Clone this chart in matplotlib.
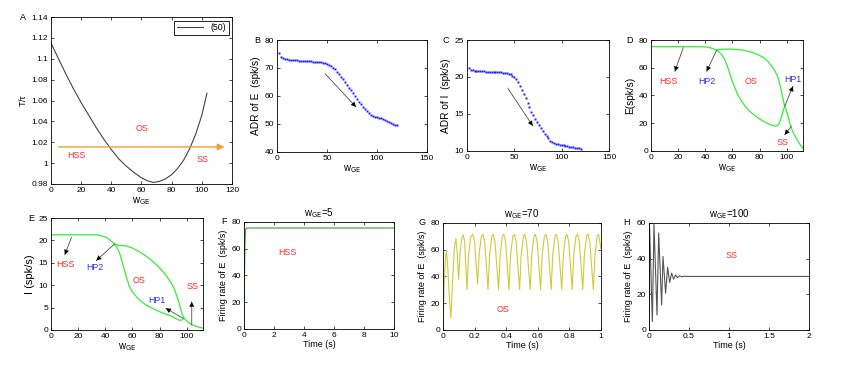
import matplotlib
matplotlib.use("Agg")
import matplotlib.pyplot as plt

plt.rcParams['font.family'] = ['Liberation Sans', 'DejaVu Sans']
plt.rcParams['mathtext.default'] = 'regular'
plt.rcParams['font.size'] = 6
plt.rcParams['axes.linewidth'] = 0.6

# ---------------- data ----------------
# A: T/tau vs w_GE
a_w = [0, 5, 10, 15, 20, 25, 30, 35, 40, 45, 50, 55, 60, 64, 68, 72, 76, 80, 84, 88, 92, 96, 100, 103.4]
a_T = [1.115, 1.100, 1.085, 1.071, 1.058, 1.046, 1.034, 1.023, 1.013, 1.004, 0.997, 0.991, 0.986, 0.983, 0.9815,
       0.9825, 0.985, 0.989, 0.995, 1.003, 1.014, 1.028, 1.046, 1.067]
a_yticks = [0.98, 1.0, 1.02, 1.04, 1.06, 1.08, 1.1, 1.12, 1.14]
a_yticklabels = ['0.98', '1', '1.02', '1.04', '1.06', '1.08', '1.1', '1.12', '1.14']

# B: ADR of E
b_w = list(range(2, 121, 2))
b_E = [75.2, 73.9, 73.4, 73.2, 73.05, 72.95, 72.9, 72.85, 72.8, 72.7, 72.65, 72.6, 72.55, 72.5, 72.45, 72.4,
       72.35, 72.3, 72.25, 72.2, 72.15, 72.05, 71.95, 71.85, 71.6, 71.2, 70.7, 70.1, 69.5, 68.6, 67.7, 66.9,
       66.0, 65.0, 64.0, 63.0, 62.0, 61.0, 60.0, 59.0, 58.0, 57.0, 56.0, 55.2, 54.5, 53.8, 53.3, 52.9, 52.6,
       52.4, 52.2, 52.0, 51.7, 51.4, 51.0, 50.7, 50.4, 50.1, 49.8, 49.5]

# C: ADR of I
c_w = list(range(2, 121, 2))
c_I = [21.2, 21.0, 20.9, 20.85, 20.82, 20.8, 20.78, 20.76, 20.75, 20.74, 20.73, 20.72, 20.71, 20.7, 20.68,
       20.66, 20.64, 20.62, 20.6, 20.56, 20.5, 20.45, 20.35, 20.2, 20.0, 19.7, 19.3, 18.8, 18.3, 17.7, 17.1,
       16.5, 15.9, 15.3, 14.8, 14.3, 13.9, 13.5, 13.1, 12.7, 12.3, 12.0, 11.7, 11.4, 11.2, 11.05, 10.95, 10.9,
       10.85, 10.8, 10.75, 10.7, 10.65, 10.6, 10.55, 10.5, 10.45, 10.4, 10.35, 10.3]

# D: bifurcation of E
d_up_w = [0, 10, 20, 30, 38, 42, 45, 48.3, 52, 57, 63, 69, 74, 79, 83, 86, 89, 91, 93, 94.4, 95.5, 96.6, 97.6, 98.5]
d_up_E = [75.2, 75.2, 75.2, 75.2, 75.1, 74.8, 74.0, 72.8, 73.3, 73.5, 73.2, 72.5, 71.2, 69.4, 67.3, 64.6, 61.0,
          58.3, 54.5, 50.2, 46.0, 40.6, 36.0, 32.2]
d_lo_w = [48.3, 50, 52, 54, 56, 58, 60, 62, 64, 67, 70, 74, 78, 82, 86, 89, 91, 92.5, 94, 95.5, 96.5, 97.5, 98.5]
d_lo_E = [72.8, 71.5, 69.5, 66.5, 62, 56, 50, 45, 40.5, 35.5, 31.5, 27.5, 24.5, 21.8, 19.8, 18.6, 18.0, 18.0,
          19.0, 22.5, 26.0, 29.5, 32.2]
d_ss_w = [98.5, 100, 101.5, 103, 104.5, 106, 107.5, 109, 110.5, 112]
d_ss_E = [32.2, 28.5, 23.0, 17.8, 13.8, 11.0, 8.3, 5.8, 3.7, 2.0]

# E: bifurcation of I
e_up_w = [0, 10, 20, 30, 35, 40, 43, 46.8, 50, 55, 60, 65, 70, 75, 80, 85, 88, 90.7, 92.5, 94.4, 95.6, 96.8, 98]
e_up_I = [21.25, 21.25, 21.25, 21.25, 21.2, 20.8, 20.2, 19.2, 18.9, 18.8, 18.3, 17.5, 16.5, 15.3, 13.9, 12.1,
          10.8, 9.3, 7.8, 6.0, 4.6, 3.4, 2.6]
e_lo_w = [46.8, 48.5, 50.5, 52.3, 54.1, 56, 57.8, 60, 62.7, 66, 70, 75, 79.8, 85, 89.5, 92, 94.4, 96.3, 98]
e_lo_I = [19.2, 18.5, 17.2, 15.4, 13.4, 11.4, 9.7, 8.5, 7.5, 6.5, 5.6, 4.8, 4.1, 3.5, 3.0, 2.5, 2.2, 2.2, 2.6]
e_ss_w = [98, 100, 102, 104, 106, 108, 110, 112]
e_ss_I = [2.6, 2.0, 1.5, 1.15, 0.9, 0.7, 0.55, 0.4]

# F: w_GE = 5
f_t = [0, 0.03, 0.06, 0.09, 0.12, 0.2, 10]
f_E = [0, 35, 62, 72, 75, 75.5, 75.5]

# G: w_GE = 70 (oscillation, peaks/troughs and shoulders)
g_t = [0, 0.008, 0.016, 0.021, 0.028, 0.04, 0.05, 0.06, 0.072, 0.082, 0.09, 0.099, 0.108, 0.12, 0.128,
       0.137, 0.152, 0.162, 0.176, 0.188, 0.2, 0.219, 0.229, 0.243, 0.253, 0.264, 0.285, 0.295, 0.309, 0.318,
       0.329, 0.352, 0.362, 0.376, 0.385, 0.396, 0.418, 0.428, 0.442, 0.452, 0.463, 0.485, 0.495, 0.509, 0.518,
       0.529, 0.552, 0.562, 0.576, 0.585, 0.596, 0.618, 0.628, 0.642, 0.652, 0.663, 0.685, 0.695, 0.709, 0.718,
       0.729, 0.752, 0.762, 0.776, 0.785, 0.796, 0.818, 0.828, 0.842, 0.852, 0.863, 0.885, 0.895, 0.909, 0.918,
       0.929, 0.952, 0.962, 0.976, 0.985, 1.0]
g_E = [0, 35, 55, 59.6, 52, 25, 8.7, 35, 62, 68.3, 58, 37.8, 58, 69, 71.3, 66, 30.3, 56, 69.5, 71.5, 66, 34.3,
       57, 70, 71.5, 66, 30.3, 56, 70, 71.5, 66, 30.3, 56, 70, 71.5, 66, 30.3, 56, 70, 71.5, 66, 30.3, 56, 70,
       71.5, 66, 30.3, 56, 70, 71.5, 66, 30.3, 56, 70, 71.5, 66, 30.3, 56, 70, 71.5, 66, 30.3, 56, 70, 71.5, 66,
       30.3, 56, 70, 71.5, 66, 30.3, 56, 70, 71.5, 66, 30.3, 56, 70, 71.5, 61]

# H: w_GE = 100 (damped oscillation)
h_t = [0, 0.008, 0.042, 0.0625, 0.1, 0.121, 0.158, 0.175, 0.208, 0.233, 0.258, 0.283, 0.308, 0.333, 0.358,
       0.383, 0.41, 0.44, 0.5, 2.0]
h_E = [0, 57, 4.7, 59.4, 8.4, 54.4, 14, 41.2, 20.6, 35.2, 26.6, 31.9, 28.5, 30.8, 29.4, 30.4, 29.8, 30.1, 30, 30]

# ---------------- style ----------------
RED = '#ff2b2b'
BLUE = '#2b2bff'
GREEN = '#33ee33'
ANN = 6.4
TICK = 6.0

fig = plt.figure(figsize=(8.58, 3.68), dpi=100)


def style(ax):
    ax.tick_params(direction='in', length=2.5, width=0.5, top=True, right=True, pad=2, labelsize=TICK)
    for s in ax.spines.values():
        s.set_linewidth(0.6)


def letter(ax, x, s):
    ax.text(x, 1.0, s, transform=ax.transAxes, ha='center', va='center', fontsize=6.5)


def arrow(ax, start, end):
    ax.annotate('', xy=end, xytext=start,
                arrowprops=dict(arrowstyle='-', color='0.3', lw=0.6, shrinkA=0, shrinkB=0))
    ax.annotate('', xy=end, xytext=start,
                arrowprops=dict(arrowstyle='-|>', color='black', lw=0.0, mutation_scale=9,
                                shrinkA=0, shrinkB=0))


WGE = r'w$_{\mathrm{GE}}$'
YFR = 'Firing rate of E  (spk/s)'
XLS = 7

# A
axA = fig.add_axes([0.0594, 0.5, 0.211, 0.4538])
axA.plot(a_w, a_T, color='#444444', lw=0.8, label='(50)')
axA.set_xlim(0, 120)
axA.set_ylim(0.98, 1.14)
axA.set_xticks(range(0, 121, 20))
axA.set_yticks(a_yticks)
axA.set_yticklabels(a_yticklabels)
axA.set_xlabel(WGE, labelpad=1, fontsize=XLS)
axA.set_ylabel(r'T/$\tau$', labelpad=3, fontsize=6.5)
axA.annotate('', xy=(115, 1.0155), xytext=(5, 1.0155),
             arrowprops=dict(arrowstyle='-|>', color='#f0a030', lw=1.0, mutation_scale=10, shrinkA=0, shrinkB=0))
axA.text(60.2, 1.033, 'OS', color=RED, ha='center', va='center', fontsize=ANN)
axA.text(16.6, 1.0073, 'HSS', color=RED, ha='center', va='center', fontsize=ANN)
axA.text(100.7, 1.0035, 'SS', color=RED, ha='center', va='center', fontsize=ANN)
leg = axA.legend(loc='upper right', fontsize=6.3, fancybox=False, edgecolor='black', framealpha=1,
                 handlelength=3.0, borderaxespad=0.4, borderpad=0.3)
leg.get_frame().set_linewidth(0.6)
style(axA)
letter(axA, -0.155, 'A')

# B
axB = fig.add_axes([0.3228, 0.587, 0.1748, 0.3043])
axB.plot(b_w, b_E, linestyle='none', marker='s', markersize=1.4, markeredgewidth=0, color='#1a1aff')
axB.set_xlim(0, 150)
axB.set_ylim(40, 80)
axB.set_xticks([0, 50, 100, 150])
axB.set_yticks(range(40, 81, 10))
axB.set_xlabel(WGE, labelpad=1, fontsize=XLS)
axB.set_ylabel('ADR of E  (spk/s)', labelpad=3, fontsize=7.3)
arrow(axB, (48.3, 67.9), (79, 56.1))
style(axB)
letter(axB, -0.133, 'B')

# C
axC = fig.add_axes([0.5443, 0.5897, 0.1655, 0.3016])
axC.plot(c_w, c_I, linestyle='none', marker='s', markersize=1.4, markeredgewidth=0, color='#1a1aff')
axC.set_xlim(0, 150)
axC.set_ylim(10, 25)
axC.set_xticks([0, 50, 100, 150])
axC.set_yticks([10, 15, 20, 25])
axC.set_xlabel(WGE, labelpad=1, fontsize=XLS)
axC.set_ylabel('ADR of I  (spk/s)', labelpad=3, fontsize=7.3)
arrow(axC, (43, 18.5), (69.4, 13.4))
style(axC)
letter(axC, -0.148, 'C')

# D
axD = fig.add_axes([0.7587, 0.5897, 0.1772, 0.3016])
axD.plot(d_up_w, d_up_E, color=GREEN, lw=0.9)
axD.plot(d_lo_w, d_lo_E, color=GREEN, lw=0.9)
axD.plot(d_ss_w, d_ss_E, color=GREEN, lw=0.9)
axD.set_xlim(0, 112)
axD.set_ylim(0, 80)
axD.set_xticks(range(0, 101, 20))
axD.set_yticks(range(0, 81, 20))
axD.set_xlabel(WGE, labelpad=1, fontsize=XLS)
axD.set_ylabel('E(spk/s)', labelpad=3, fontsize=7.3)
axD.text(12.7, 50.2, 'HSS', color=RED, ha='center', va='center', fontsize=ANN)
axD.text(41, 50.2, 'HP2', color=BLUE, ha='center', va='center', fontsize=ANN)
axD.text(74, 50.2, 'OS', color=RED, ha='center', va='center', fontsize=ANN)
axD.text(104.6, 51.4, 'HP1', color=BLUE, ha='center', va='center', fontsize=ANN)
axD.text(96.8, 6.4, 'SS', color=RED, ha='center', va='center', fontsize=ANN)
arrow(axD, (23.8, 74.6), (17.6, 57.4))
arrow(axD, (48.3, 72.5), (41, 57.4))
arrow(axD, (98.5, 32.2), (104.6, 46.6))
arrow(axD, (103.4, 17.8), (98.5, 11.7))
style(axD)
letter(axD, -0.138, 'D')

# E
axE = fig.add_axes([0.0594, 0.1033, 0.1772, 0.3043])
axE.plot(e_up_w, e_up_I, color=GREEN, lw=0.9)
axE.plot(e_lo_w, e_lo_I, color=GREEN, lw=0.9)
axE.plot(e_ss_w, e_ss_I, color=GREEN, lw=0.9)
axE.set_xlim(0, 112)
axE.set_ylim(0, 25)
axE.set_xticks(range(0, 101, 20))
axE.set_yticks(range(0, 26, 5))
axE.set_xlabel(WGE, labelpad=1, fontsize=XLS)
axE.set_ylabel('I (spk/s)', labelpad=3, fontsize=8)
axE.text(11.0, 14.55, 'HSS', color=RED, ha='center', va='center', fontsize=ANN)
axE.text(32.2, 13.96, 'HP2', color=BLUE, ha='center', va='center', fontsize=ANN)
axE.text(65.1, 10.97, 'OS', color=RED, ha='center', va='center', fontsize=ANN)
axE.text(77.8, 6.5, 'HP1', color=BLUE, ha='center', va='center', fontsize=ANN)
axE.text(104.1, 9.8, 'SS', color=RED, ha='center', va='center', fontsize=ANN)
arrow(axE, (15.1, 20.7), (10.2, 16.8))
arrow(axE, (46.8, 19.2), (33.4, 15.5))
arrow(axE, (97.3, 2.6), (84.6, 4.85))
arrow(axE, (103.7, 1.1), (103.7, 6.3))
style(axE)
letter(axE, -0.13, 'E')

# F
axF = fig.add_axes([0.2844, 0.106, 0.1748, 0.2908])
axF.plot(f_t, f_E, color='#3a9a3a', lw=0.8)
axF.set_xlim(0, 10)
axF.set_ylim(0, 80)
axF.set_xticks(range(0, 11, 2))
axF.set_yticks(range(0, 81, 20))
axF.set_xlabel('Time (s)', labelpad=1, fontsize=6.5)
axF.set_ylabel(YFR, labelpad=3, fontsize=6.5)
axF.set_title(r'w$_{\mathrm{GE}}$=5', fontsize=7, pad=4)
axF.text(2.88, 56.9, 'HSS', color=RED, ha='center', va='center', fontsize=ANN)
style(axF)
letter(axF, -0.133, 'F')

# G
axG = fig.add_axes([0.5163, 0.1033, 0.1841, 0.2908])
axG.plot(g_t, g_E, color='#cccc3a', lw=0.8)
axG.set_xlim(0, 1)
axG.set_ylim(0, 80)
axG.set_xticks([0, 0.2, 0.4, 0.6, 0.8, 1.0])
axG.set_xticklabels(['0', '0.2', '0.4', '0.6', '0.8', '1'])
axG.set_yticks(range(0, 81, 20))
axG.set_xlabel('Time (s)', labelpad=1, fontsize=6.5)
axG.set_ylabel(YFR, labelpad=3, fontsize=6.5)
axG.set_title(r'w$_{\mathrm{GE}}$=70', fontsize=7, pad=4)
axG.text(0.38, 15, 'OS', color=RED, ha='center', va='center', fontsize=ANN)
style(axG)
letter(axG, -0.133, 'G')

# H
axH = fig.add_axes([0.7564, 0.1033, 0.1865, 0.2908])
axH.plot(h_t, h_E, color='#555555', lw=0.8)
axH.set_xlim(0, 2)
axH.set_ylim(0, 60)
axH.set_xticks([0, 0.5, 1, 1.5, 2])
axH.set_xticklabels(['0', '0.5', '1', '1.5', '2'])
axH.set_yticks(range(0, 61, 20))
axH.set_xlabel('Time (s)', labelpad=1, fontsize=6.5)
axH.set_ylabel(YFR, labelpad=3, fontsize=6.5)
axH.set_title(r'w$_{\mathrm{GE}}$=100', fontsize=7, pad=4)
axH.text(1.03, 42, 'SS', color=RED, ha='center', va='center', fontsize=ANN)
style(axH)
letter(axH, -0.1375, 'H')

fig.savefig('out.png', dpi=100)
